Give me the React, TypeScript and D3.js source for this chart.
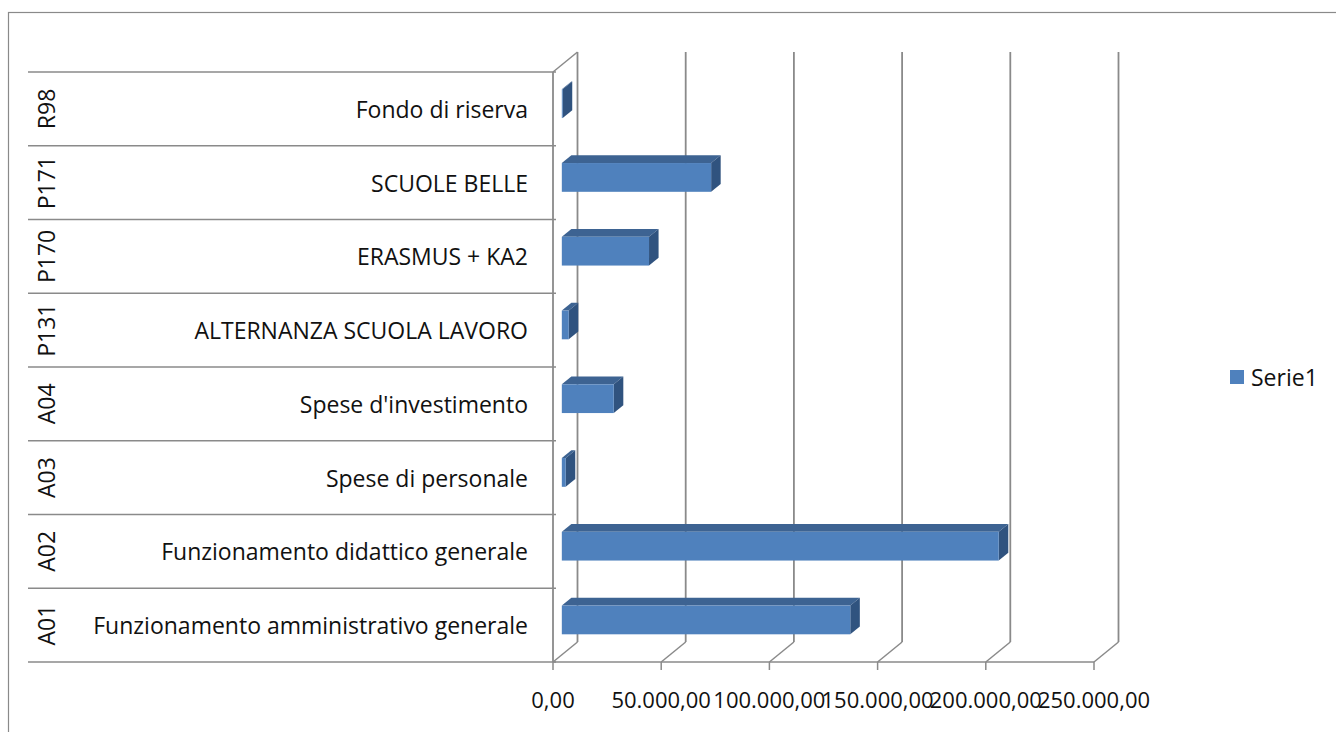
import React from "react";
import * as d3 from "d3";

const codes = ["A01", "A02", "A03", "A04", "P131", "P170", "P171", "R98"];
const names = [
  "Funzionamento amministrativo generale",
  "Funzionamento didattico generale",
  "Spese di personale",
  "Spese d'investimento",
  "ALTERNANZA SCUOLA LAVORO",
  "ERASMUS + KA2",
  "SCUOLE BELLE",
  "Fondo di riserva",
];
const values = [133300, 201900, 1800, 24000, 3200, 40300, 69000, 400];
const ticks = [0, 50000, 100000, 150000, 200000, 250000];
const seriesName = "Serie1";

const W = 1336;
const H = 732;
const DX = 24.5;
const DY = -20;
const FONT = "'Open Sans', 'Noto Sans', sans-serif";
const FS = 23;

const locale = d3.formatLocale({
  decimal: ",",
  thousands: ".",
  grouping: [3],
  currency: ["€", ""],
});
const fmt = locale.format(",.2f");

export default function App() {
  const x = d3.scaleLinear().domain([0, 250000]).range([553, 1094]);
  const y = d3.scaleBand<string>().domain(codes).range([662, 72]).paddingInner(0);
  const bw = y.bandwidth();
  const barH = bw * 0.39;
  const z0 = 0.36;
  const z1 = 0.75;
  const grid = "#8a8a8a";

  const P = (v: number, yy: number, z: number) => [x(v) + z * DX, yy + z * DY];
  const poly = (pts: number[][]) => pts.map((p) => p.join(",")).join(" ");

  const yTop = y.range()[1];
  const yBot = y.range()[0];

  return (
    <svg
      width={W}
      height={H}
      style={{ position: "fixed", left: 0, top: 0, background: "#fff" }}
    >
      <rect x={8.5} y={12.5} width={W + 20} height={H + 20} fill="none" stroke="#8a8a8a" strokeWidth={1.2} />
      {/* back wall gridlines */}
      {ticks.map((t) => {
        const [bx, by0] = P(t, yTop, 1);
        const [, by1] = P(t, yBot, 1);
        return (
          <g key={"g" + t}>
            <line x1={bx} y1={by0} x2={bx} y2={by1} stroke={grid} strokeWidth={1.8} />
            <line x1={x(t)} y1={yBot} x2={bx} y2={by1} stroke={grid} strokeWidth={1.5} />
            <line x1={x(t)} y1={yBot} x2={x(t)} y2={yBot + 8} stroke={grid} strokeWidth={1.5} />
          </g>
        );
      })}
      {/* left wall */}
      <line x1={x(0)} y1={yTop} x2={x(0) + DX} y2={yTop + DY} stroke={grid} strokeWidth={1.5} />
      <line x1={x(0)} y1={yTop} x2={x(0)} y2={yBot} stroke={grid} strokeWidth={1.8} />
      <line x1={x(0)} y1={yBot} x2={x(ticks[ticks.length - 1])} y2={yBot} stroke={grid} strokeWidth={1.5} />
      {/* category lines */}
      {[...codes.map((c) => y(c)! + bw), yTop].map((yy, i) => (
        <line key={"c" + i} x1={28} y1={yy} x2={x(0) + 3} y2={yy} stroke={grid} strokeWidth={1.5} />
      ))}
      {/* labels */}
      {codes.map((c, i) => {
        const cy = y(c)! + bw / 2;
        return (
          <g key={"l" + c}>
            <text x={528} y={cy} textAnchor="end" dominantBaseline="central" fontFamily={FONT} fontSize={FS} fill="#111">
              {names[i]}
            </text>
            <text
              transform={`translate(46,${cy}) rotate(-90)`}
              textAnchor="middle"
              dominantBaseline="central"
              fontFamily={FONT}
              fontSize={FS}
              fill="#111"
            >
              {c}
            </text>
          </g>
        );
      })}
      {/* bars */}
      {codes.map((c, i) => {
        const cy = y(c)! + bw / 2 + 2;
        const t = cy - barH / 2;
        const b = cy + barH / 2;
        const v = values[i];
        const f0 = P(0, t, z0);
        const f1 = P(v, b, z0);
        const topFace = [P(0, t, z0), P(v, t, z0), P(v, t, z1), P(0, t, z1)];
        const side = [P(v, t, z0), P(v, t, z1), P(v, b, z1), P(v, b, z0)];
        return (
          <g key={"b" + c}>
            <polygon points={poly(topFace)} fill="#3d6392" />
            <polygon points={poly(side)} fill="#30537f" />
            <rect x={f0[0]} y={f0[1]} width={Math.max(0, f1[0] - f0[0])} height={f1[1] - f0[1]} fill="#4f81bd" />
          </g>
        );
      })}
      {/* value axis labels */}
      {ticks.map((t) => (
        <text key={"t" + t} x={x(t)} y={699} textAnchor="middle" dominantBaseline="central" fontFamily={FONT} fontSize={22} fill="#111">
          {fmt(t)}
        </text>
      ))}
      {/* legend */}
      <rect x={1230} y={370} width={14} height={14} fill="#4f81bd" />
      <text x={1251} y={377} dominantBaseline="central" fontFamily={FONT} fontSize={FS} fill="#111">
        {seriesName}
      </text>
    </svg>
  );
}
